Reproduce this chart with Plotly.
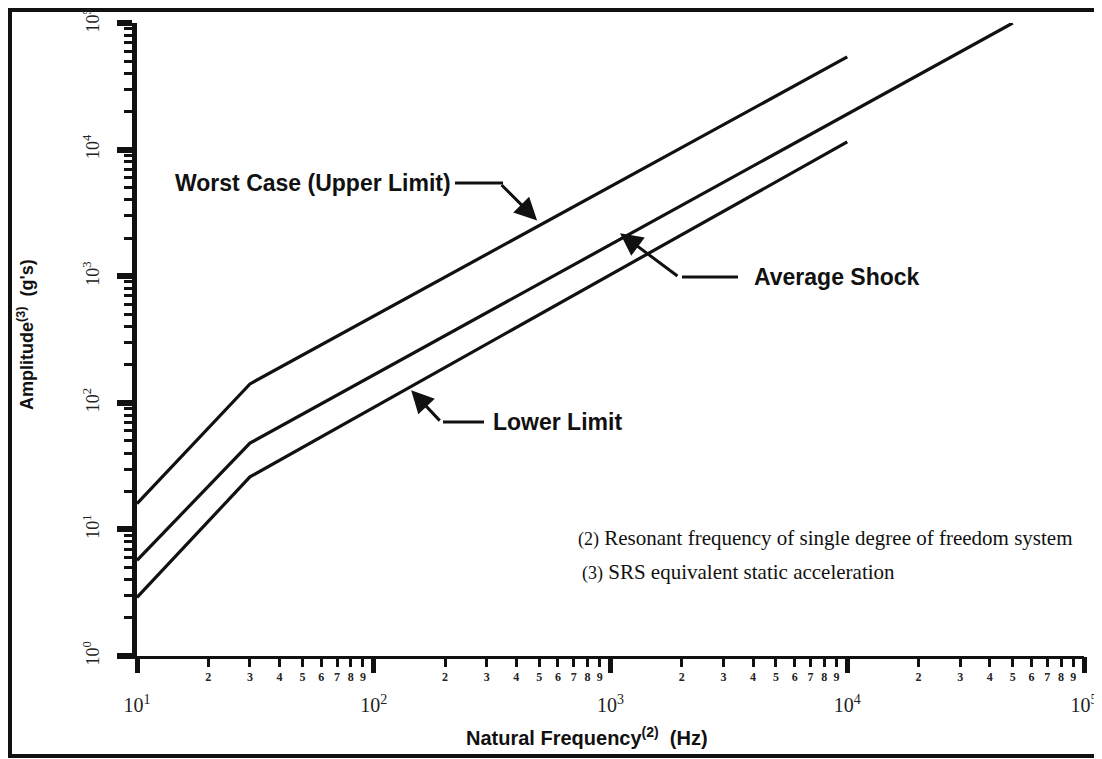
import plotly.graph_objects as go

# ---- data ----
freq_worst = [10, 30, 10000]
amp_worst = [16, 141, 54000]
freq_avg = [10, 30, 50000]
amp_avg = [5.7, 48, 100000]
freq_low = [10, 30, 10000]
amp_low = [2.9, 26, 11500]

decades_x = [10, 100, 1000, 10000, 100000]
decade_x_labels = ["10<sup>1</sup>", "10<sup>2</sup>", "10<sup>3</sup>", "10<sup>4</sup>", "10<sup>5</sup>"]
decades_y = [1, 10, 100, 1000, 10000, 100000]
decade_y_labels = ["10<sup>0</sup>", "10<sup>1</sup>", "10<sup>2</sup>", "10<sup>3</sup>", "10<sup>4</sup>", "10<sup>5</sup>"]
minor_digits = [2, 3, 4, 5, 6, 7, 8, 9]

minor_x_vals = [d * dec for dec in decades_x[:-1] for d in minor_digits]
minor_x_text = [str(d) for dec in decades_x[:-1] for d in minor_digits]
minor_y_vals = [d * dec for dec in decades_y[:-1] for d in minor_digits]

# ---- geometry (page has an 8px body margin) ----
OFF = 8
W, H = 1102 - OFF, 759 - OFF
PL, PR, PT, PB = 137, 1084, 23, 656          # plot area in page pixels
L, T = PL - OFF, PT - OFF
R, B = W - (PR - OFF), H - (PB - OFF)
PW, PH = PR - PL, PB - PT


def px(x):
    return (x - PL) / PW


def py(y):
    return (PB - y) / PH


fig = go.Figure()
for f, a, name in [(freq_worst, amp_worst, "Worst Case (Upper Limit)"),
                   (freq_avg, amp_avg, "Average Shock"),
                   (freq_low, amp_low, "Lower Limit")]:
    fig.add_trace(go.Scatter(x=f, y=a, mode="lines", name=name,
                             line=dict(color="#111", width=3.2), showlegend=False,
                             hoverinfo="skip"))

# invisible trace to anchor the decade (major) x-axis
fig.add_trace(go.Scatter(x=[decades_x[0]], y=[decades_y[0]], xaxis="x2", mode="markers",
                         marker=dict(opacity=0), showlegend=False, hoverinfo="skip"))

serif = "Liberation Serif, Times New Roman, serif"
sans = "Liberation Sans, Arial, sans-serif"

fig.update_layout(
    width=W, height=H,
    margin=dict(l=L, r=R, t=T, b=B, pad=0, autoexpand=False),
    paper_bgcolor="white", plot_bgcolor="white",
    xaxis=dict(type="log", range=[1, 5], showgrid=False, zeroline=False, automargin=False,
               showline=True, linecolor="#111", linewidth=3,
               tickvals=minor_x_vals, ticktext=minor_x_text,
               ticks="outside", ticklen=8, tickwidth=3, tickcolor="#111",
               tickfont=dict(family=serif, size=12, color="#222", weight="bold"),
               ticklabelstandoff=0),
    xaxis2=dict(type="log", range=[1, 5], overlaying="x", anchor="y", side="bottom",
                showgrid=False, zeroline=False, showline=False, automargin=False,
                tickvals=decades_x, ticktext=decade_x_labels,
                ticks="outside", ticklen=16, tickwidth=5, tickcolor="#111",
                tickfont=dict(family=serif, size=20, color="#222"),
                ticklabelstandoff=15),
    yaxis=dict(type="log", range=[0, 5], showgrid=False, zeroline=False, automargin=False,
               showline=True, linecolor="#111", linewidth=5,
               tickvals=decades_y, ticktext=decade_y_labels, tickangle=-90,
               ticks="outside", ticklen=15, tickwidth=6, tickcolor="#111",
               tickfont=dict(family=serif, size=18, color="#222"),
               ticklabelstandoff=11,
               minor=dict(tickvals=minor_y_vals, ticks="outside", ticklen=8,
                          tickwidth=3, tickcolor="#111", showgrid=False)),
)

ann = []
shapes = []


def text_ann(text, x, y, xanchor, size, family, angle=0):
    return dict(text=text, xref="paper", yref="paper", x=px(x), y=py(y),
                xanchor=xanchor, yanchor="middle", showarrow=False, textangle=angle,
                font=dict(family=family, size=size, color="#111"))


# axis titles
ann.append(text_ann("<b>Amplitude<sup>(3)</sup>  (g's)</b>", 25, 335, "center", 18, sans, -90))
ann.append(text_ann("<b>Natural Frequency<sup>(2)</sup>  (Hz)</b>", 587, 737, "center", 20, sans))

# curve labels
ann.append(text_ann("<b>Worst Case (Upper Limit)</b>", 453, 183, "right", 23, sans))
ann.append(text_ann("<b>Average Shock</b>", 752, 277, "left", 23, sans))
ann.append(text_ann("<b>Lower Limit</b>", 491, 422, "left", 23, sans))

# leader arrows (tip in data coords, elbow offset in pixels)
arrow_defs = [
    (2.69, 3.44, -37, -37, (455, 503, 183)),
    (3.04, 3.34, 59, 44, (682, 738, 277)),
    (2.158, 2.10, 30, 32, (443, 484, 422)),
]
for lx, ly, ax, ay, (h0, h1, hy) in arrow_defs:
    ann.append(dict(text="", x=lx, y=ly, xref="x", yref="y", ax=ax, ay=ay,
                    showarrow=True, arrowhead=2, arrowsize=1.5, arrowwidth=3,
                    arrowcolor="#111", standoff=0, startstandoff=0))
    shapes.append(dict(type="line", xref="paper", yref="paper",
                       x0=px(h0), x1=px(h1), y0=py(hy), y1=py(hy),
                       line=dict(color="#111", width=3)))

# footnotes
ann.append(text_ann("<span style='font-size:18px'>(2)</span> Resonant frequency of single degree of freedom system",
                    576, 538, "left", 21, serif))
ann.append(text_ann("<span style='font-size:18px'>(3)</span> SRS equivalent static acceleration",
                    580, 572, "left", 21, serif))

# outer frame
shapes.append(dict(type="rect", xref="paper", yref="paper",
                   x0=px(10), x1=px(1115), y0=py(756), y1=py(10),
                   line=dict(color="#111", width=4), layer="below"))

fig.update_layout(annotations=ann, shapes=shapes)
fig.write_html("out.html")
